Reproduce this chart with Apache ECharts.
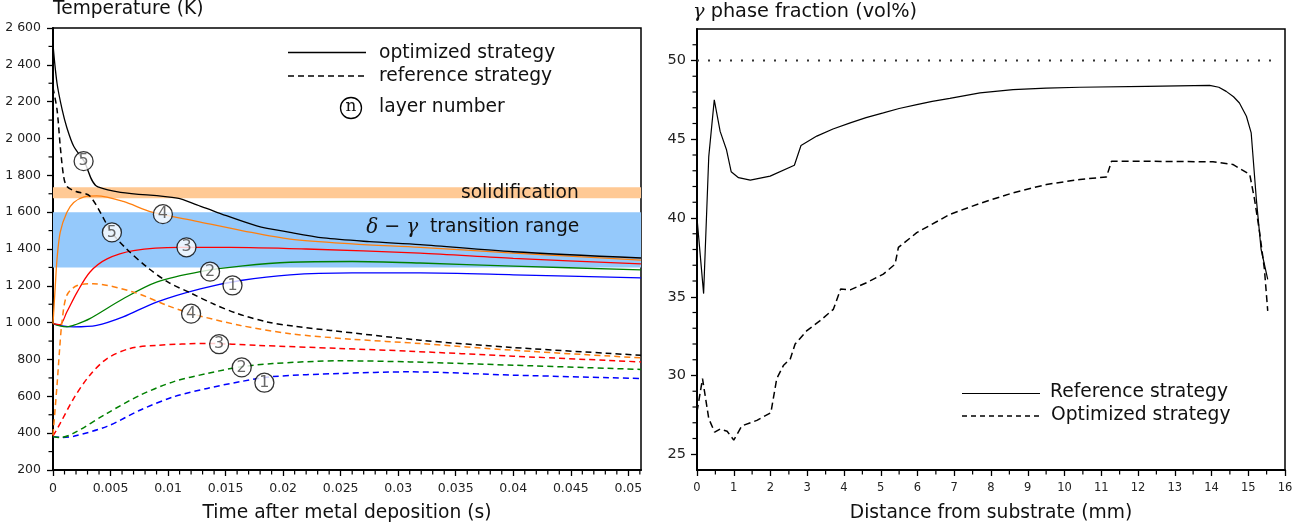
<!DOCTYPE html>
<html>
<head>
<meta charset="utf-8">
<script src="https://cdn.jsdelivr.net/npm/echarts@6.0.0/dist/echarts.min.js"></script>
<style>
html, body { margin: 0; padding: 0; background: #fff; }
#chart { width: 1315px; height: 528px; }
</style>
</head>
<body>
<div id="chart"></div>
<script>
// --- left panel: temperature vs time, one curve per layer ---
var optimized1 = [[0, 995], [0.0008, 982], [0.0018, 977], [0.0038, 985], [0.0061, 1031], [0.009, 1112], [0.0128, 1184], [0.0163, 1229], [0.0206, 1260], [0.026, 1270], [0.0319, 1270], [0.04, 1260], [0.0511, 1243]];
var optimized2 = [[0, 995], [0.0006, 982], [0.0012, 977], [0.002, 990], [0.0032, 1022], [0.0061, 1130], [0.009, 1220], [0.0128, 1277], [0.0165, 1308], [0.0206, 1328], [0.026, 1332], [0.0319, 1324], [0.04, 1307], [0.0511, 1287]];
var optimized3 = [[0, 995], [0.0006, 989], [0.0012, 1058], [0.0021, 1166], [0.0032, 1274], [0.0047, 1346], [0.007, 1391], [0.011, 1409], [0.0154, 1409], [0.022, 1400], [0.0319, 1378], [0.04, 1349], [0.0511, 1319]];
var optimized4 = [[0, 995], [0.0002, 1200], [0.00035, 1346], [0.00063, 1492], [0.0012, 1598], [0.0018, 1652], [0.0027, 1683], [0.0038, 1688], [0.0061, 1658], [0.0086, 1600], [0.0125, 1550], [0.0165, 1499], [0.0206, 1454], [0.026, 1428], [0.0319, 1409], [0.04, 1378], [0.0511, 1340]];
var optimized5 = [[0, 2510], [0.00035, 2300], [0.0008, 2155], [0.0012, 2060], [0.0018, 1958], [0.0027, 1877], [0.0039, 1737], [0.0108, 1676], [0.0125, 1640], [0.0143, 1598], [0.0177, 1526], [0.0206, 1490], [0.0235, 1460], [0.0275, 1440], [0.0319, 1424], [0.04, 1385], [0.0511, 1351]];

var reference1 = [[0, 382], [0.0008, 377], [0.0018, 383], [0.0047, 437], [0.0076, 526], [0.0105, 598], [0.0134, 643], [0.0163, 680], [0.0191, 707], [0.0249, 724], [0.031, 733], [0.04, 715], [0.0511, 697]];
var reference2 = [[0, 382], [0.0006, 376], [0.0018, 400], [0.0047, 508], [0.0076, 607], [0.0105, 680], [0.0134, 724], [0.0163, 760], [0.0191, 778], [0.0249, 793], [0.031, 787], [0.04, 769], [0.0511, 746]];
var reference3 = [[0, 385], [0.0006, 450], [0.0018, 589], [0.0032, 715], [0.0047, 805], [0.0067, 860], [0.009, 877], [0.0134, 887], [0.0177, 877], [0.0249, 860], [0.031, 845], [0.04, 818], [0.0511, 787]];
var reference4 = [[0, 390], [0.00035, 661], [0.00058, 860], [0.00078, 1004], [0.0012, 1148], [0.0021, 1202], [0.0035, 1211], [0.007, 1166], [0.0099, 1094], [0.012, 1049], [0.0163, 985], [0.0206, 940], [0.026, 910], [0.0319, 887], [0.04, 850], [0.0511, 809]];
var reference5 = [[0, 2275], [0.00035, 2157], [0.00063, 1958], [0.00092, 1796], [0.0012, 1740], [0.002, 1712], [0.0032, 1688], [0.0051, 1490], [0.0064, 1400], [0.0082, 1300], [0.01, 1220], [0.012, 1160], [0.014, 1100], [0.016, 1050], [0.0186, 1004], [0.021, 980], [0.0241, 958], [0.0319, 905], [0.04, 865], [0.0511, 823]];

// circled layer numbers: [time, temperature, layer]
var optimizedTags = [[0.00266, 1877, 5], [0.00955, 1589, 4], [0.0116, 1409, 3], [0.01365, 1277, 2], [0.0156, 1202, 1]];
var referenceTags = [[0.00512, 1490, 5], [0.012, 1049, 4], [0.01444, 883, 3], [0.0164, 757, 2], [0.01837, 674, 1]];

var solidificationBand = [1676, 1735];
var transitionBand = [1300, 1600];

var tempTicks = [200, 400, 600, 800, 1000, 1200, 1400, 1600, 1800, 2000, 2200, 2400, 2600];
var timeTicks = [0, 0.005, 0.01, 0.015, 0.02, 0.025, 0.03, 0.035, 0.04, 0.045, 0.05];

// --- right panel: gamma fraction vs distance ---
var referenceProfile = [[0, 40.0], [0.18, 35.2], [0.32, 43.9], [0.47, 47.5], [0.63, 45.5], [0.8, 44.35], [0.93, 42.94], [1.13, 42.56], [1.45, 42.4], [1.99, 42.66], [2.65, 43.35], [2.83, 44.6], [3.26, 45.2], [3.7, 45.65], [4.17, 46.04], [4.6, 46.37], [5.07, 46.67], [5.5, 46.95], [5.98, 47.2], [6.4, 47.4], [6.88, 47.6], [7.7, 47.95], [8.6, 48.15], [9.5, 48.25], [10.42, 48.3], [12.23, 48.36], [13.95, 48.42], [14.2, 48.3], [14.4, 48.04], [14.6, 47.7], [14.76, 47.3], [14.95, 46.46], [15.08, 45.4], [15.22, 41.2], [15.35, 38.0], [15.53, 36.1]];
var optimizedProfile = [[0, 27.7], [0.15, 29.8], [0.32, 27.26], [0.48, 26.4], [0.63, 26.6], [0.82, 26.46], [1.0, 25.9], [1.22, 26.8], [1.63, 27.15], [2.01, 27.64], [2.17, 29.8], [2.35, 30.63], [2.54, 31.06], [2.67, 32.0], [2.99, 32.85], [3.35, 33.48], [3.71, 34.2], [3.91, 35.49], [4.17, 35.44], [4.62, 35.9], [5.07, 36.44], [5.39, 37.07], [5.48, 38.13], [5.98, 39.07], [6.88, 40.23], [7.7, 40.93], [8.6, 41.6], [9.51, 42.13], [10.42, 42.45], [11.14, 42.6], [11.28, 43.6], [12.23, 43.6], [14.04, 43.57], [14.58, 43.4], [15.04, 42.77], [15.17, 41.2], [15.31, 39.08], [15.44, 36.75], [15.53, 34.1]];
var equilibriumLine = [[0, 50], [15.7, 50]];

var fracTicks = [25, 30, 35, 40, 45, 50];
var distTicks = [0, 1, 2, 3, 4, 5, 6, 7, 8, 9, 10, 11, 12, 13, 14, 15, 16];

// minor ticks
var tempMinor = tempTicks.slice(0, -1).map(function (v) { return v + 100; });
var timeMinor = [];
for (var i = 1; i <= 51; i++) { if (i % 5) timeMinor.push(i / 1000); }
var fracMinor = [];
for (var v = 25; v <= 51; v++) { if (v % 5) fracMinor.push(v); }
var distMinor = distTicks.slice(0, -1).map(function (v) { return v + 0.5; });

var FONT = 'DejaVu Sans';
var BIG = 18.7;
var MINOR = 4.5;
var layerColors = ['#0000ff', '#008000', '#ff0000', '#ff7f0e', '#000000'];
var optimized = [optimized1, optimized2, optimized3, optimized4, optimized5];
var reference = [reference1, reference2, reference3, reference4, reference5];

function thousands(v) {
	if (v >= 1000) return Math.floor(v / 1000) + ' ' + String(v % 1000).padStart(3, '0');
	return String(v);
}
function plain(v) { return String(v); }

function mainAxis(grid, pos, min, max, ticks, fmt, margin, size) {
	return {
		gridIndex: grid, type: 'value', position: pos, min: min, max: max,
		axisLine: { onZero: false, lineStyle: { color: '#000', width: 2 } },
		axisTick: { customValues: ticks, length: 6, lineStyle: { color: '#000', width: 1.3 } },
		axisLabel: { customValues: ticks, margin: margin, fontSize: size, color: '#222', fontFamily: FONT, formatter: fmt },
		splitLine: { show: false }
	};
}
// short minor tick marks hanging off an axis line
function minorTicks(xi, yi, points, vertical) {
	return {
		type: 'custom', xAxisIndex: xi, yAxisIndex: yi, data: points, silent: true, clip: false, z: 6,
		renderItem: function (params, api) {
			var p = api.coord([api.value(0), api.value(1)]);
			var shape = vertical
				? { x1: p[0], y1: p[1], x2: p[0], y2: p[1] + MINOR }
				: { x1: p[0] - MINOR, y1: p[1], x2: p[0], y2: p[1] };
			return { type: 'line', shape: shape, style: { stroke: '#000', lineWidth: 1.2 } };
		}
	};
}

var xTime = mainAxis(0, 'bottom', 0, 0.0511, timeTicks, plain, 12, 12.5);
xTime.name = 'Time after metal deposition (s)';
xTime.nameLocation = 'middle';
xTime.nameGap = 34;
xTime.nameTextStyle = { fontSize: BIG, color: '#111', fontFamily: FONT };
var xDist = mainAxis(1, 'bottom', 0, 16, distTicks, plain, 12, 11.5);
xDist.name = 'Distance from substrate (mm)';
xDist.nameLocation = 'middle';
xDist.nameGap = 34;
xDist.nameTextStyle = { fontSize: BIG, color: '#111', fontFamily: FONT };

var series = [];
// bands behind the curves
series.push({
	type: 'line', xAxisIndex: 0, yAxisIndex: 0, data: [[0, 100]], symbol: 'none', silent: true, z: 1,
	markArea: {
		silent: true,
		data: [
			[{ name: 'solidification', yAxis: solidificationBand[0], itemStyle: { color: '#ffc994', opacity: 1 },
				label: { show: true, position: ['79.4%', '50%'], align: 'center', verticalAlign: 'middle', formatter: '{b}', fontSize: BIG, color: '#111', fontFamily: FONT } },
			 { yAxis: solidificationBand[1] }],
			[{ name: 'transition', yAxis: transitionBand[0], itemStyle: { color: '#95c9fb', opacity: 1 },
				label: { show: true, position: ['71.4%', '27.8%'], align: 'center', verticalAlign: 'middle',
					formatter: '{m|δ} {o|−} {m|γ}  transition range', fontSize: BIG, color: '#111', fontFamily: FONT,
					rich: { m: { fontFamily: 'DejaVu Serif', fontStyle: 'italic', fontSize: 20, color: '#111' }, o: { fontFamily: 'DejaVu Sans', fontSize: 19, color: '#111' } } } },
			 { yAxis: transitionBand[1] }]
		]
	}
});
optimized.forEach(function (d, k) {
	series.push({
		type: 'line', xAxisIndex: 0, yAxisIndex: 0, data: d, symbol: 'none', smooth: 0.3,
		lineStyle: { color: layerColors[k], width: 1.3 }, z: 3, silent: true
	});
});
reference.forEach(function (d, k) {
	series.push({
		type: 'line', xAxisIndex: 0, yAxisIndex: 0, data: d, symbol: 'none', smooth: 0.3,
		lineStyle: { color: layerColors[k], width: 1.5, type: [6, 4] }, z: 3, silent: true
	});
});
series.push({
	type: 'scatter', xAxisIndex: 0, yAxisIndex: 0, data: optimizedTags.concat(referenceTags),
	symbol: 'circle', symbolSize: 19, z: 5, silent: true,
	itemStyle: { color: '#fff', borderColor: '#000', borderWidth: 1.3 },
	label: { show: true, position: 'inside', formatter: function (p) { return p.value[2]; }, fontSize: 16, color: '#444', fontFamily: FONT }
});
// right panel
series.push({
	type: 'line', xAxisIndex: 1, yAxisIndex: 1, data: equilibriumLine, symbol: 'none', silent: true,
	lineStyle: { color: '#333', width: 1.8, type: [2, 9] }
});
series.push({
	type: 'line', xAxisIndex: 1, yAxisIndex: 1, data: referenceProfile, symbol: 'none', silent: true,
	lineStyle: { color: '#000', width: 1.2 }
});
series.push({
	type: 'line', xAxisIndex: 1, yAxisIndex: 1, data: optimizedProfile, symbol: 'none', silent: true,
	lineStyle: { color: '#000', width: 1.5, type: [7, 4] }
});
// minor ticks
series.push(minorTicks(0, 0, tempMinor.map(function (v) { return [0, v]; }), false));
series.push(minorTicks(0, 0, timeMinor.map(function (v) { return [v, 200]; }), true));
series.push(minorTicks(1, 1, fracMinor.map(function (v) { return [0, v]; }), false));
series.push(minorTicks(1, 1, distMinor.map(function (v) { return [v, 24]; }), true));

var option = {
	animation: false,
	backgroundColor: '#fff',
	grid: [
		{ left: 53, right: 674, top: 28, bottom: 56, show: true, borderColor: '#000', borderWidth: 1.5 },
		{ left: 697, right: 30, top: 29, bottom: 56, show: true, borderColor: '#000', borderWidth: 1.5 }
	],
	xAxis: [xTime, xDist],
	yAxis: [
		mainAxis(0, 'left', 200, 2600, tempTicks, thousands, 12, 12.5),
		mainAxis(1, 'left', 24, 52, fracTicks, plain, 11, 14.5)
	],
	series: series,
	graphic: [
		{ type: 'text', x: 53, y: 9.5, style: { text: 'Temperature (K)', fontSize: 18.6, fontFamily: FONT, fill: '#111', verticalAlign: 'middle' } },
		{ type: 'text', x: 693, y: 11.5, style: { text: '{g|γ} phase fraction (vol%)', fontSize: 19.3, fontFamily: FONT, fill: '#111', verticalAlign: 'middle',
			rich: { g: { fontFamily: 'DejaVu Serif', fontStyle: 'italic', fontSize: 19.3, fill: '#111' } } } },
		// left legend
		{ type: 'line', shape: { x1: 288, y1: 52.5, x2: 366, y2: 52.5 }, style: { stroke: '#000', lineWidth: 1.3 } },
		{ type: 'line', shape: { x1: 288, y1: 76, x2: 366, y2: 76 }, style: { stroke: '#000', lineWidth: 1.5, lineDash: [6, 4] } },
		{ type: 'circle', shape: { cx: 351, cy: 108, r: 10.5 }, style: { fill: '#fff', stroke: '#000', lineWidth: 1.3 } },
		{ type: 'text', x: 351, y: 107, style: { text: 'n', fontSize: 17, fontFamily: 'DejaVu Serif', fill: '#111', align: 'center', verticalAlign: 'middle' } },
		{ type: 'text', x: 379, y: 53.5, style: { text: 'optimized strategy', fontSize: BIG, fontFamily: FONT, fill: '#111', verticalAlign: 'middle' } },
		{ type: 'text', x: 379, y: 76.5, style: { text: 'reference strategy', fontSize: BIG, fontFamily: FONT, fill: '#111', verticalAlign: 'middle' } },
		{ type: 'text', x: 379, y: 107, style: { text: 'layer number', fontSize: BIG, fontFamily: FONT, fill: '#111', verticalAlign: 'middle' } },
		// right legend
		{ type: 'line', shape: { x1: 962, y1: 393.5, x2: 1040, y2: 393.5 }, style: { stroke: '#000', lineWidth: 1.2 } },
		{ type: 'line', shape: { x1: 962, y1: 416, x2: 1040, y2: 416 }, style: { stroke: '#000', lineWidth: 1.3, lineDash: [5, 4] } },
		{ type: 'text', x: 1050, y: 392.5, style: { text: 'Reference strategy', fontSize: BIG, fontFamily: FONT, fill: '#111', verticalAlign: 'middle' } },
		{ type: 'text', x: 1051, y: 415, style: { text: 'Optimized strategy', fontSize: BIG, fontFamily: FONT, fill: '#111', verticalAlign: 'middle' } }
	]
};

var chart = echarts.init(document.getElementById('chart'));
chart.setOption(option);
</script>
</body>
</html>
